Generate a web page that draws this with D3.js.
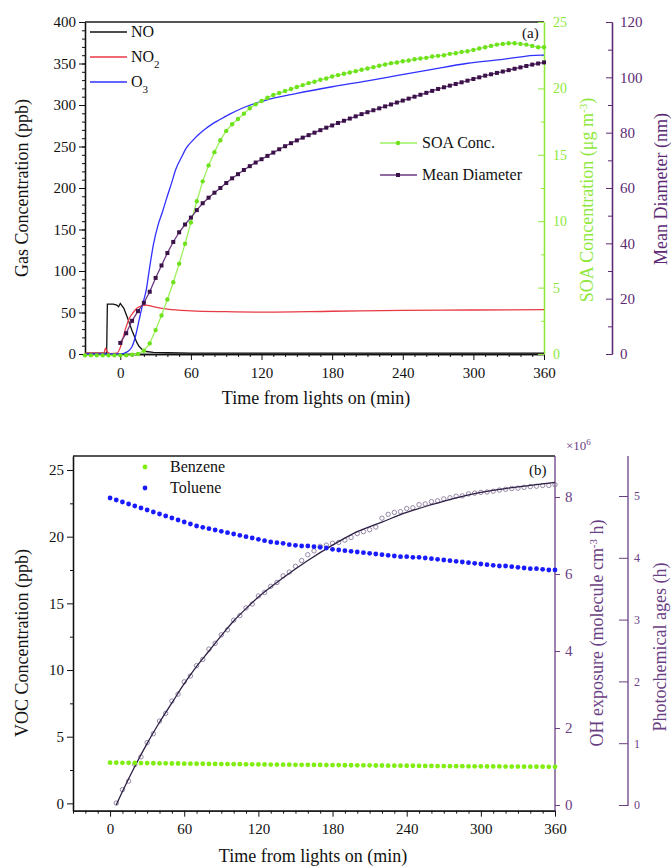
<!DOCTYPE html>
<html>
<head>
<meta charset="utf-8">
<script src="https://cdn.jsdelivr.net/npm/d3@7"></script>
<style>
body { margin: 0; background: #fff; }
text { font-family: "Liberation Serif", "DejaVu Serif", serif; }
</style>
</head>
<body>
<div id="chart"></div>
<script>
// ---- panel (a): gas phase ----
var noTime  = [-30,-20,-12,-11.6,-11,-6,-3,-1.5,0,3,6,8,10,12,14,16,19,22,28,40,60,120,240,360];
var noVal   = [1,1,1,1,60,60,59,57,61,55,44,36,28,21,14,9,5,3,2,1.5,1,1,1,1];
var no2Time = [-30,-14,-12.5,-11,-8,-3,0,2,5,8,11,14,18,22,28,40,60,90,120,180,240,300,360];
var no2Val  = [1,1,7,2,0.5,1,8,18,33,44,50,55,58,59,57,54,52,51,50.5,51.5,52.5,53,53.5];
var o3Time  = [-30,0,5,8,10,13,16,19,22,25,28,32,36,39,44,47,52,56,62,67,73,78,84,93,105,124,150,180,210,237,265,294,325,357,360];
var o3Val   = [0,0,2,5,9,22,41,60,77,105,131,155,172,186,208,222,237,248,258,265,272,277,282,289,297,306,314,322,329,336,343,350,355,360,360];

var soaTime = [-30,-25,-20,-15,-10,-5,0,5,10,15,20,25,30,35,40,45,50,55,60,65,70,75,80,85,90,95,100,105,110,115,120,
  125,130,135,140,145,150,155,160,165,170,175,180,185,190,195,200,205,210,215,220,225,230,235,240,
  245,250,255,260,265,270,275,280,285,290,295,300,305,310,315,320,325,330,335,340,345,350,355,360];
var soaVal  = [-0.1,-0.1,-0.1,-0.1,-0.1,-0.1,-0.1,-0.1,-0.05,0,0.25,0.8,1.8,2.9,4.1,5.4,6.8,8.3,9.9,11.5,13.0,14.2,15.2,16.1,16.8,17.3,17.7,18.1,18.5,18.8,19.05,
  19.3,19.5,19.65,19.8,19.95,20.1,20.25,20.4,20.5,20.65,20.75,20.9,21.0,21.1,21.2,21.3,21.4,21.5,21.6,21.7,21.8,21.9,21.95,22.05,
  22.1,22.2,22.25,22.3,22.4,22.45,22.5,22.6,22.65,22.75,22.8,22.9,23.0,23.1,23.2,23.3,23.35,23.4,23.4,23.35,23.3,23.2,23.1,23.1];

var diamTime = [0,5,10,15,20,25,30,35,40,45,50,55,60,65,70,75,80,85,90,95,100,105,110,115,120,
  125,130,135,140,145,150,155,160,165,170,175,180,185,190,195,200,205,210,215,220,225,230,235,240,
  245,250,255,260,265,270,275,280,285,290,295,300,305,310,315,320,325,330,335,340,345,350,355,360];
var diamVal  = [4,7.5,12,15.5,18.5,22.5,27.5,32,36.5,40.5,44,46.8,49.3,52,54.5,56.5,58.3,60,61.8,63.5,65,66.5,67.9,69.2,70.4,
  71.6,72.8,74,75.1,76.2,77.2,78.2,79.1,80,80.9,81.8,82.6,83.5,84.3,85.1,85.9,86.7,87.4,88.1,88.8,89.5,90.2,90.9,91.6,
  92.3,93,93.7,94.4,95.1,95.8,96.4,97,97.6,98.2,98.8,99.4,100,100.6,101.1,101.6,102.1,102.6,103.1,103.6,104.1,104.6,105,105.4];

// ---- panel (b): VOC decay and OH exposure ----
var vocTime = diamTime;
var toluene = [22.9,22.75,22.6,22.45,22.3,22.15,22.0,21.85,21.7,21.55,21.4,21.25,21.1,20.95,20.8,20.7,20.6,20.5,20.4,20.3,20.2,20.1,20.0,19.9,19.8,
  19.7,19.6,19.55,19.5,19.4,19.35,19.3,19.3,19.25,19.2,19.15,19.05,19.0,18.95,18.9,18.85,18.8,18.75,18.7,18.65,18.6,18.55,18.5,18.5,
  18.45,18.45,18.4,18.35,18.3,18.25,18.2,18.15,18.1,18.05,18.0,17.95,17.9,17.85,17.8,17.8,17.75,17.7,17.65,17.6,17.6,17.55,17.5,17.5];
var benzene = [3.05,3.05,3.04,3.04,3.03,3.02,3.02,3.01,3.00,3.00,2.99,2.99,2.98,
  2.98,2.97,2.97,2.96,2.96,2.95,2.95,2.94,2.94,2.93,2.93,2.92,
  2.92,2.91,2.91,2.90,2.90,2.89,2.89,2.89,2.88,2.88,2.87,2.87,
  2.87,2.86,2.86,2.85,2.85,2.85,2.84,2.84,2.83,2.83,2.83,2.82,
  2.82,2.81,2.81,2.81,2.80,2.80,2.79,2.79,2.79,2.78,2.78,2.78,
  2.77,2.77,2.77,2.76,2.76,2.76,2.75,2.75,2.75,2.75,2.74,2.74];

var ohMeasTime = [5,10,15,20,25,30,35,40,45,50,55,60,65,70,75,80,85,90,95,100,105,110,115,120,
  125,130,135,140,145,150,155,160,165,170,175,180,185,190,195,200,205,210,215,220,225,230,235,240,
  245,250,255,260,265,270,275,280,285,290,295,300,305,310,315,320,325,330,335,340,345,350,355,360];
var ohMeas = [0.05,0.4,0.62,1.05,1.25,1.62,1.85,2.18,2.38,2.7,2.88,3.2,3.35,3.62,3.78,4.05,4.2,4.42,4.55,4.8,4.92,5.12,5.22,5.43,
  5.52,5.68,5.78,5.95,6.05,6.2,6.35,6.5,6.6,6.72,6.75,6.8,6.82,6.88,6.95,7.05,7.1,7.15,7.22,7.45,7.55,7.6,7.62,7.7,
  7.72,7.8,7.82,7.88,7.9,7.95,7.98,8.02,8.03,8.08,8.1,8.12,8.13,8.15,8.18,8.2,8.22,8.23,8.25,8.27,8.28,8.3,8.3,8.32];
var ohFitTime = [5,10,15,20,30,40,50,60,70,80,90,100,110,120,140,160,180,200,220,240,260,280,300,320,340,360];
var ohFit     = [0,0.35,0.68,1.0,1.6,2.15,2.65,3.15,3.6,4.0,4.4,4.78,5.1,5.4,5.9,6.35,6.75,7.1,7.35,7.6,7.8,7.98,8.12,8.22,8.3,8.38];

var timeTicks = [0,60,120,180,240,300,360];
var timeMinor = [-30,-20,-10,10,20,30,40,50,70,80,90,100,110,130,140,150,160,170,190,200,210,220,230,250,260,270,280,290,310,320,330,340,350];

var svg = d3.select("#chart").append("svg")
  .attr("width", 672)
  .attr("height", 868);

function styleAxis(g, color, size) {
  g.attr("font-family", null);
  g.selectAll("path").attr("stroke", color).attr("stroke-width", 1.3);
  g.selectAll("line").attr("stroke", color).attr("stroke-width", 1);
  g.selectAll("text").attr("fill", color).style("font-size", size + "px")
    .style("font-family", '"Liberation Serif", serif');
}

function noLabel() { return ""; }
var intFmt = d3.format("d");

// ================= panel (a) =================
var xA = d3.scaleLinear().domain([-30, 360]).range([85, 544]);
var yGas = d3.scaleLinear().domain([0, 400]).range([354, 22]);
var ySoa = d3.scaleLinear().domain([0, 25]).range([354, 22]);
var yDiam = d3.scaleLinear().domain([0, 120]).range([354, 22]);

// top frame line
svg.append("line").attr("x1", 85).attr("x2", 544).attr("y1", 22).attr("y2", 22)
  .attr("stroke", "#555").attr("stroke-width", 2);

var gA = svg.append("g");
styleAxis(gA.append("g").attr("transform", "translate(85,0)")
  .call(d3.axisLeft(yGas).tickValues(d3.range(0, 401, 10)).tickSize(3).tickFormat(noLabel).tickSizeOuter(0)), "#111", 15);
styleAxis(gA.append("g").attr("transform", "translate(85,0)")
  .call(d3.axisLeft(yGas).tickValues([0,50,100,150,200,250,300,350,400]).tickSize(6).tickPadding(3).tickSizeOuter(0)), "#111", 15);
styleAxis(gA.append("g").attr("transform", "translate(0,354)")
  .call(d3.axisBottom(xA).tickValues(timeMinor).tickSize(3).tickFormat(noLabel).tickSizeOuter(0)), "#111", 15);
styleAxis(gA.append("g").attr("transform", "translate(0,354)")
  .call(d3.axisBottom(xA).tickValues(timeTicks).tickSize(6).tickPadding(7).tickSizeOuter(0)), "#111", 15);

// SOA axis
var soaCol = "#8ee83a";
styleAxis(gA.append("g").attr("transform", "translate(544,0)")
  .call(d3.axisRight(ySoa).tickValues([2.5,7.5,12.5,17.5,22.5]).tickSize(-3).tickFormat(noLabel).tickSizeOuter(0)), soaCol, 14);
styleAxis(gA.append("g").attr("transform", "translate(544,0)")
  .call(d3.axisRight(ySoa).tickValues([0,5,10,15,20,25]).tickSize(-6).tickPadding(9).tickFormat(intFmt).tickSizeOuter(0)), soaCol, 14);

// diameter axis
var diamCol = "#5c2a74";
styleAxis(gA.append("g").attr("transform", "translate(612,0)")
  .call(d3.axisRight(yDiam).tickValues([10,30,50,70,90,110]).tickSize(-4).tickFormat(noLabel).tickSizeOuter(0)), diamCol, 15);
styleAxis(gA.append("g").attr("transform", "translate(612,0)")
  .call(d3.axisRight(yDiam).tickValues([0,20,40,60,80,100,120]).tickSize(-6).tickPadding(8).tickSizeOuter(0)), diamCol, 15);

// axis titles
svg.append("text").attr("transform", "translate(28,188) rotate(-90)")
  .attr("text-anchor", "middle").style("font-size", "18px").attr("fill", "#111")
  .text("Gas Concentration (ppb)");
var soaTitle = svg.append("text").attr("transform", "translate(593,200) rotate(-90)")
  .attr("text-anchor", "middle").style("font-size", "18px").attr("fill", soaCol);
soaTitle.append("tspan").text("SOA Concentration (\u03bcg m");
soaTitle.append("tspan").attr("baseline-shift", "super").style("font-size", "11px").text("-3");
soaTitle.append("tspan").text(")");
svg.append("text").attr("transform", "translate(667,189) rotate(-90)")
  .attr("text-anchor", "middle").style("font-size", "18px").attr("fill", diamCol)
  .text("Mean Diameter (nm)");
svg.append("text").attr("x", 316).attr("y", 404).attr("text-anchor", "middle")
  .style("font-size", "18px").attr("fill", "#111").text("Time from lights on (min)");
svg.append("text").attr("x", 522).attr("y", 38).style("font-size", "15px").attr("fill", "#111").text("(a)");

function lineOf(times, vals, xs, ys, curve) {
  return d3.line().curve(curve || d3.curveLinear)
    .x(function(d, i) { return xs(times[i]); }).y(function(d) { return ys(d); })(vals);
}

// gas lines
svg.append("path").attr("d", lineOf(noTime, noVal, xA, yGas))
  .attr("fill", "none").attr("stroke", "#111").attr("stroke-width", 1.3);
svg.append("path").attr("d", lineOf(no2Time, no2Val, xA, yGas, d3.curveMonotoneX))
  .attr("fill", "none").attr("stroke", "#e83a44").attr("stroke-width", 1.3);
svg.append("path").attr("d", lineOf(o3Time, o3Val, xA, yGas, d3.curveMonotoneX))
  .attr("fill", "none").attr("stroke", "#3030ff").attr("stroke-width", 1.3);

// SOA line and markers
svg.append("path").attr("d", lineOf(soaTime, soaVal, xA, ySoa))
  .attr("fill", "none").attr("stroke", "#9cf060").attr("stroke-width", 1.3);
svg.selectAll(".soaPt").data(soaVal).enter().append("circle")
  .attr("cx", function(d, i) { return xA(soaTime[i]); })
  .attr("cy", function(d) { return ySoa(d); })
  .attr("r", 2.2).attr("fill", "#6ee21a");

// mean diameter line and markers
svg.append("path").attr("d", lineOf(diamTime, diamVal, xA, yDiam))
  .attr("fill", "none").attr("stroke", "#6a3a80").attr("stroke-width", 1.3);
svg.selectAll(".diamPt").data(diamVal).enter().append("rect")
  .attr("x", function(d, i) { return xA(diamTime[i]) - 2; })
  .attr("y", function(d) { return yDiam(d) - 2; })
  .attr("width", 4).attr("height", 4).attr("fill", "#3a1248");

// legends panel (a)
var legA = [
  {name: "NO", sub: "", col: "#111", y: 32},
  {name: "NO", sub: "2", col: "#e83a44", y: 57},
  {name: "O", sub: "3", col: "#3030ff", y: 82}
];
legA.forEach(function(l) {
  svg.append("line").attr("x1", 90).attr("x2", 127).attr("y1", l.y).attr("y2", l.y)
    .attr("stroke", l.col).attr("stroke-width", 1.3);
  var t = svg.append("text").attr("x", 131).attr("y", l.y + 5).style("font-size", "16px").attr("fill", "#111");
  t.append("tspan").text(l.name);
  if (l.sub) t.append("tspan").attr("baseline-shift", "sub").style("font-size", "11px").text(l.sub);
});
svg.append("line").attr("x1", 380).attr("x2", 417).attr("y1", 143).attr("y2", 143)
  .attr("stroke", "#9cf060").attr("stroke-width", 1.3);
svg.append("circle").attr("cx", 398).attr("cy", 143).attr("r", 2.2).attr("fill", "#6ee21a");
svg.append("text").attr("x", 422).attr("y", 148).style("font-size", "16px").attr("fill", "#111").text("SOA Conc.");
svg.append("line").attr("x1", 380).attr("x2", 417).attr("y1", 175).attr("y2", 175)
  .attr("stroke", "#6a3a80").attr("stroke-width", 1.3);
svg.append("rect").attr("x", 396).attr("y", 173).attr("width", 4).attr("height", 4).attr("fill", "#3a1248");
svg.append("text").attr("x", 422).attr("y", 180).style("font-size", "16px").attr("fill", "#111").text("Mean Diameter");

// ================= panel (b) =================
var xB = d3.scaleLinear().domain([-30, 360]).range([73, 555]);
var yVoc = d3.scaleLinear().domain([-0.55, 26.05]).range([810.7, 456]);
var yOh = d3.scaleLinear().domain([0, 8]).range([805, 497]);
var yAge = d3.scaleLinear().domain([0, 5]).range([805, 496]);
var purB = "#6a4084";

svg.append("line").attr("x1", 73).attr("x2", 555).attr("y1", 456).attr("y2", 456)
  .attr("stroke", "#555").attr("stroke-width", 2);

var gB = svg.append("g");
styleAxis(gB.append("g").attr("transform", "translate(73,0)")
  .call(d3.axisLeft(yVoc).tickValues([2.5,7.5,12.5,17.5,22.5]).tickSize(3).tickFormat(noLabel).tickSizeOuter(0)), "#111", 15);
styleAxis(gB.append("g").attr("transform", "translate(73,0)")
  .call(d3.axisLeft(yVoc).tickValues([0,5,10,15,20,25]).tickSize(6).tickPadding(3).tickFormat(intFmt).tickSizeOuter(0)), "#111", 15);
styleAxis(gB.append("g").attr("transform", "translate(0,810.7)")
  .call(d3.axisBottom(xB).tickValues(timeMinor).tickSize(3).tickFormat(noLabel).tickSizeOuter(0)), "#111", 15);
styleAxis(gB.append("g").attr("transform", "translate(0,810.7)")
  .call(d3.axisBottom(xB).tickValues(timeTicks).tickSize(6).tickPadding(7).tickSizeOuter(0)), "#111", 15);

// OH exposure axis
var ohAxis = gB.append("g").attr("transform", "translate(555,0)")
  .call(d3.axisRight(yOh).tickValues([0,2,4,6,8]).tickSize(5).tickPadding(5).tickFormat(intFmt).tickSizeOuter(0));
ohAxis.select("path").attr("d", "M0," + 456 + "V" + 810.7);
styleAxis(ohAxis, purB, 15);

// photochemical age axis
var ageAxis = gB.append("g").attr("transform", "translate(628,0)")
  .call(d3.axisRight(yAge).tickValues([0,1,2,3,4,5]).tickSize(-9).tickPadding(6).tickFormat(intFmt).tickSizeOuter(0));
ageAxis.select("path").attr("d", "M0," + 456 + "V" + 806);
styleAxis(ageAxis, purB, 12);

var tx = svg.append("text").attr("x", 566).attr("y", 450).style("font-size", "13px").attr("fill", purB);
tx.append("tspan").text("\u00d710");
tx.append("tspan").attr("baseline-shift", "super").style("font-size", "9px").text("6");

svg.append("text").attr("transform", "translate(28,643) rotate(-90)")
  .attr("text-anchor", "middle").style("font-size", "18px").attr("fill", "#111")
  .text("VOC Concentration (ppb)");
var ohTitle = svg.append("text").attr("transform", "translate(603,633) rotate(-90)")
  .attr("text-anchor", "middle").style("font-size", "18px").attr("fill", purB);
ohTitle.append("tspan").text("OH exposure (molecule cm");
ohTitle.append("tspan").attr("baseline-shift", "super").style("font-size", "11px").text("-3");
ohTitle.append("tspan").text(" h)");
svg.append("text").attr("transform", "translate(666,647) rotate(-90)")
  .attr("text-anchor", "middle").style("font-size", "18px").attr("fill", purB)
  .text("Photochemical ages (h)");
svg.append("text").attr("x", 313).attr("y", 862).attr("text-anchor", "middle")
  .style("font-size", "18px").attr("fill", "#111").text("Time from lights on (min)");
svg.append("text").attr("x", 529).attr("y", 475).style("font-size", "15px").attr("fill", "#111").text("(b)");

// OH exposure measured (open circles) and fit
svg.selectAll(".ohPt").data(ohMeas).enter().append("circle")
  .attr("cx", function(d, i) { return xB(ohMeasTime[i]); })
  .attr("cy", function(d) { return yOh(d); })
  .attr("r", 2.2).attr("fill", "none").attr("stroke", "#8a7a9c").attr("stroke-width", 0.9);
svg.append("path")
  .attr("d", lineOf(ohFitTime, ohFit, xB, yOh, d3.curveMonotoneX))
  .attr("fill", "none").attr("stroke", "#2e1f45").attr("stroke-width", 1.3);

// VOC points
svg.selectAll(".tolPt").data(toluene).enter().append("circle")
  .attr("cx", function(d, i) { return xB(vocTime[i]); })
  .attr("cy", function(d) { return yVoc(d); })
  .attr("r", 2.4).attr("fill", "#1a1aff");
svg.selectAll(".benPt").data(benzene).enter().append("circle")
  .attr("cx", function(d, i) { return xB(vocTime[i]); })
  .attr("cy", function(d) { return yVoc(d); })
  .attr("r", 2.4).attr("fill", "#80ee10");

// legend panel (b)
svg.append("circle").attr("cx", 145).attr("cy", 467).attr("r", 2.4).attr("fill", "#80ee10");
svg.append("text").attr("x", 170).attr("y", 472).style("font-size", "16px").attr("fill", "#111").text("Benzene");
svg.append("circle").attr("cx", 145).attr("cy", 488).attr("r", 2.4).attr("fill", "#1a1aff");
svg.append("text").attr("x", 170).attr("y", 493).style("font-size", "16px").attr("fill", "#111").text("Toluene");
</script>
</body>
</html>
